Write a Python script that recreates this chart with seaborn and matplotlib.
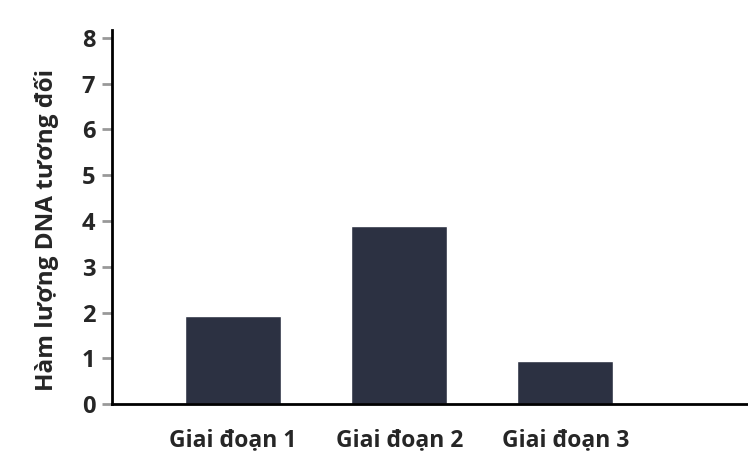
import pandas as pd
import matplotlib.pyplot as plt
import seaborn as sns

sns.set_style('white')
plt.rcParams['font.family'] = ['Open Sans', 'DejaVu Sans']

stages = ['Giai đoạn 1', 'Giai đoạn 2', 'Giai đoạn 3']
dna = [1.93, 3.9, 0.93]
df = pd.DataFrame({'stage': stages, 'dna': dna})

fig = plt.figure(figsize=(7.48, 4.72), dpi=100)
ax = fig.add_axes([0.1497, 0.144, 0.8503, 0.792])
sns.barplot(data=df, x='stage', y='dna', color='#2c3142', saturation=1,
            width=0.58, ax=ax)

ax.set_xlim(-0.73, 3.1)
ax.set_ylim(0, 8.17)
ax.set_yticks(range(0, 9))
ax.set_xlabel('')
ax.set_ylabel('Hàm lượng DNA tương đối', fontsize=17.5, fontweight='bold')
ax.yaxis.set_label_coords(-0.084, 0.465)
for lab in ax.get_yticklabels():
    lab.set_fontsize(17)
    lab.set_fontweight('bold')
for lab in ax.get_xticklabels():
    lab.set_fontsize(16.5)
    lab.set_fontweight('bold')
ax.tick_params(axis='y', left=True, length=7, width=2, color='#999999', pad=5)
ax.tick_params(axis='x', bottom=False, pad=14)
sns.despine(ax=ax, top=True, right=True)
ax.spines['left'].set_linewidth(2)
ax.spines['bottom'].set_linewidth(2)
ax.spines['left'].set_color('black')
ax.spines['bottom'].set_color('black')

fig.savefig('out.png', dpi=100)
